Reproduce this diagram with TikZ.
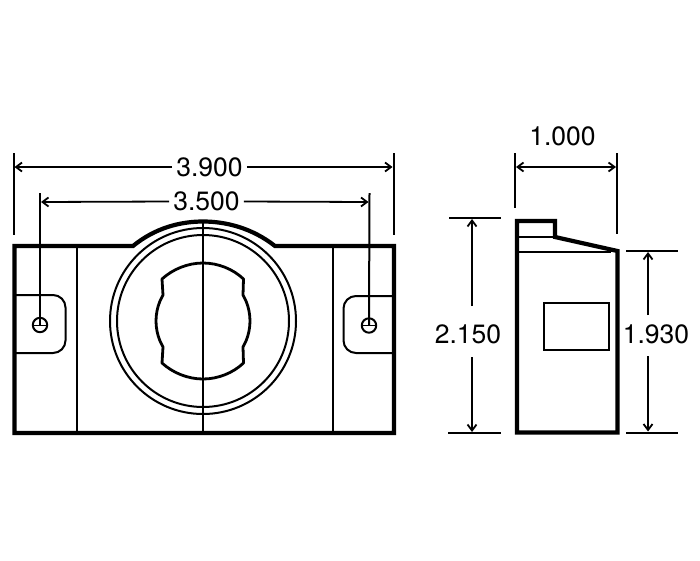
\documentclass[tikz,border=0pt]{standalone}
\usepackage{fontspec}
\setmainfont{TeX Gyre Heros}
\usetikzlibrary{arrows.meta}
\tikzset{
  heavy/.style={draw=black,line width=4.2pt,line join=miter},
  medium/.style={draw=black,line width=2pt},
  keyline/.style={draw=black,line width=2.8pt,line join=round},
  fine/.style={draw=black,line width=1.2pt},
  hair/.style={draw=black,line width=0.9pt},
  extline/.style={draw=black,line width=2pt},
  dimline/.style={draw=black,line width=1.8pt,-{Straight Barb[length=6pt,width=9pt,line width=1.8pt]}},
  dimtext/.style={inner sep=0pt,font=\fontsize{26.5}{28}\selectfont,text=black}
}
\begin{document}
\begin{tikzpicture}[x=1pt,y=-1pt]
\useasboundingbox[fill=white] (0,0) rectangle (700,560);
% front view
\draw[medium] (76.5,246) -- (76.5,433);
\draw[medium] (333,246) -- (333,433);
\draw[medium] (203,221) -- (203,433);
\draw[medium,rounded corners=12.5pt] (14,295) -- (65.5,295) -- (65.5,353) -- (14,353);
\draw[medium,rounded corners=12.5pt] (394,296) -- (343.5,296) -- (343.5,353) -- (394,353);
\draw[medium] (203,321) circle[radius=93];
\draw[medium] (203,321) circle[radius=86];
\draw[keyline] (162,279) .. controls (173,269) and (188,263) .. (203,263)
  .. controls (218,263) and (233,269) .. (243.5,279)
  -- (243,295) -- (246,301)
  .. controls (248.5,307) and (250,314) .. (250,321)
  .. controls (250,328) and (248.5,335) .. (246,341)
  -- (243,347) -- (243.5,363)
  .. controls (233,373) and (218,379) .. (203,379)
  .. controls (188,379) and (173,373) .. (162,363)
  -- (163,347) -- (160,341)
  .. controls (157.5,335) and (156,328) .. (156,321)
  .. controls (156,314) and (157.5,307) .. (160,301)
  -- (163,295) -- cycle;
\draw[heavy] (14.5,246) -- (133,246) .. controls (155,228) and (180,221.5) .. (203,221.5)
  .. controls (226,221.5) and (252,228) .. (275,246) -- (394,246) -- (394,433) -- (14.5,433) -- cycle;
% mounting holes
\coordinate (holeL) at (40,325);
\coordinate (holeR) at (369,325.5);
\draw[medium] (holeL) circle[radius=7.2];
\draw[medium] (holeR) circle[radius=7.2];
\draw[hair] (32.8,325) -- (47.2,325);
\draw[hair] (361.8,325.5) -- (376.2,325.5);
\coordinate (extLtop) at (40,193);
\coordinate (extRtop) at (369.5,193);
\draw[extline] (extLtop) -- (holeL);
\draw[extline] (extRtop) -- (holeR);
% side view
\draw[fine] (517,237) -- (555,237);
\draw[fine] (517,252) -- (611,252);
\draw[fine] (544,303) rectangle (609,350);
\draw[heavy] (517,221) -- (555,221) -- (555,237) -- (617.5,251) -- (617.5,432.5) -- (517,432.5) -- cycle;
% extension lines
\coordinate (a1) at (13.5,153); \coordinate (a2) at (13.5,235);
\coordinate (b1) at (393.5,153); \coordinate (b2) at (393.5,235);
\coordinate (c1) at (515,153); \coordinate (c2) at (515,208);
\coordinate (d1) at (617,153); \coordinate (d2) at (617,234);
\coordinate (e1) at (449,218); \coordinate (e2) at (501,218);
\coordinate (f1) at (448,433); \coordinate (f2) at (501,433);
\coordinate (g1) at (626,251); \coordinate (g2) at (678,251);
\coordinate (h1) at (626,432.5); \coordinate (h2) at (678,432.5);
\foreach \p/\q in {a1/a2,b1/b2,c1/c2,d1/d2,e1/e2,f1/f2,g1/g2,h1/h2}
  \draw[extline] (\p) -- (\q);
% dimension labels
\node[dimtext] (t390) at (209.5,167) {3.900};
\node[dimtext] (t350) at (206.5,201.5) {3.500};
\node[dimtext] (t100) at (562.5,136) {1.000};
\node[dimtext] (t215) at (468,334) {2.150};
\node[dimtext] (t193) at (656,334) {1.930};
% dimension arrows
\coordinate (A) at (14.5,167); \coordinate (B) at (392.5,167);
\coordinate (C) at (41,202); \coordinate (D) at (368.5,202);
\coordinate (E) at (516,167); \coordinate (F) at (616,167);
\coordinate (G) at (472,219); \coordinate (H) at (472,432);
\coordinate (I) at (648,252); \coordinate (J) at (648,431.5);
\coordinate (g3) at (472,306); \coordinate (g4) at (472,357);
\coordinate (i3) at (648,315); \coordinate (i4) at (648,356);
\draw[dimline] ([xshift=-4pt]t390.west) -- (A);
\draw[dimline] ([xshift=4pt]t390.east) -- (B);
\draw[dimline] ([xshift=-4pt]t350.west) -- (C);
\draw[dimline] ([xshift=4pt]t350.east) -- (D);
\draw[dimline,{Straight Barb[length=6pt,width=9pt,line width=1.8pt]}-{Straight Barb[length=6pt,width=9pt,line width=1.8pt]}] (E) -- (F);
\draw[dimline] (g3) -- (G);
\draw[dimline] (g4) -- (H);
\draw[dimline] (i3) -- (I);
\draw[dimline] (i4) -- (J);
\end{tikzpicture}
\end{document}
